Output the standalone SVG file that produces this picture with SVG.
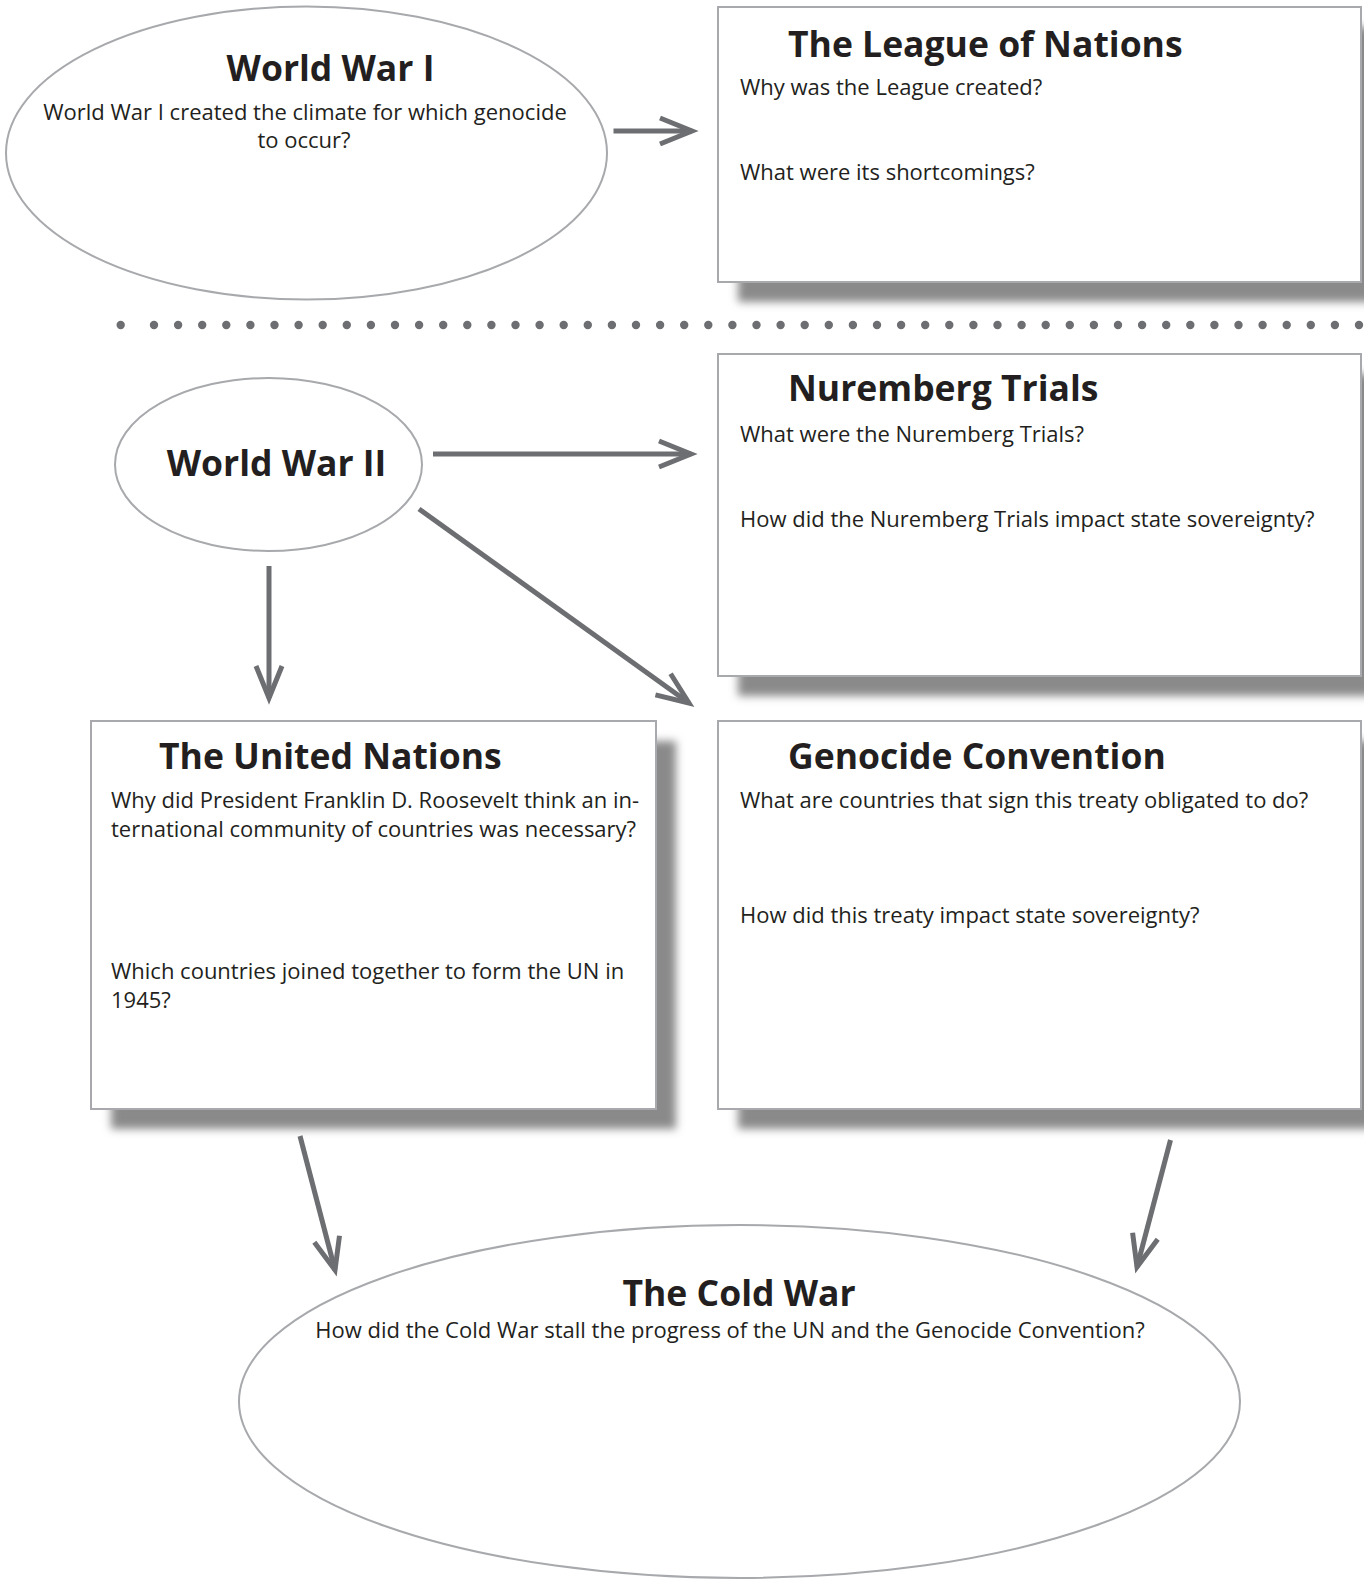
<svg xmlns="http://www.w3.org/2000/svg" width="1364" height="1580" viewBox="0 0 1364 1580">
<style>
.node-shape{fill:#fff;stroke:#a7a9ac;stroke-width:2}
.shadow{fill:#8a8a8a;filter:url(#blur)}
.title{font-family:"Open Sans","Noto Sans","Liberation Sans",sans-serif;font-weight:bold;font-size:35.5px;fill:#231f20}
.body{font-family:"Open Sans","Noto Sans","Liberation Sans",sans-serif;font-size:22px;fill:#231f20}
.mid{text-anchor:middle}
.conn{stroke:#6d6e71;stroke-width:5;fill:none;marker-end:url(#arr)}
.dot{fill:#6d6e71}
</style>
<defs>
<filter id="blur" x="-10%" y="-10%" width="120%" height="130%"><feGaussianBlur stdDeviation="4"/></filter>
<marker id="arr" markerUnits="userSpaceOnUse" markerWidth="46" markerHeight="40" viewBox="-36 -20 46 40" refX="0" refY="0" orient="auto">
<path d="M-32,-13 L0,0 L-32,13" fill="none" stroke="#6d6e71" stroke-width="5"/>
</marker>
</defs>
<rect width="1364" height="1580" fill="#fff"/>

<g id="divider">
<circle class="dot" cx="120.7" cy="325" r="4.2"/>
<line x1="154" y1="325" x2="1364" y2="325" stroke="#6d6e71" stroke-width="8.4" stroke-linecap="round" stroke-dasharray="0 24.1"/>
</g>

<g id="ww1">
<ellipse class="node-shape" cx="306.5" cy="153" rx="300.5" ry="146.5"/>
<text class="title mid" x="330.5" y="80.5">World War I</text>
<text class="body mid" x="305" y="120">World War I created the climate for which genocide</text>
<text class="body mid" x="304" y="148">to occur?</text>
</g>

<g id="league">
<rect class="shadow" x="738" y="27" width="643" height="275"/>
<rect class="node-shape" x="718" y="7" width="643" height="275"/>
<text class="title" x="788" y="56.5">The League of Nations</text>
<text class="body" x="740" y="95">Why was the League created?</text>
<text class="body" x="740" y="180">What were its shortcomings?</text>
</g>

<g id="nuremberg">
<rect class="shadow" x="738" y="374" width="643" height="322"/>
<rect class="node-shape" x="718" y="354" width="643" height="322"/>
<text class="title" x="788" y="401">Nuremberg Trials</text>
<text class="body" x="740" y="442">What were the Nuremberg Trials?</text>
<text class="body" x="740" y="527">How did the Nuremberg Trials impact state sovereignty?</text>
</g>

<g id="ww2">
<ellipse class="node-shape" cx="268.5" cy="464.5" rx="153.5" ry="86.5"/>
<text class="title mid" x="276.5" y="476">World War II</text>
</g>

<g id="un">
<rect class="shadow" x="111" y="741" width="565" height="388"/>
<rect class="node-shape" x="91" y="721" width="565" height="388"/>
<text class="title" x="159" y="769">The United Nations</text>
<text class="body" x="111" y="808">Why did President Franklin D. Roosevelt think an in-</text>
<text class="body" x="111" y="837">ternational community of countries was necessary?</text>
<text class="body" x="111" y="979">Which countries joined together to form the UN in</text>
<text class="body" x="111" y="1008">1945?</text>
</g>

<g id="genocide">
<rect class="shadow" x="738" y="741" width="643" height="388"/>
<rect class="node-shape" x="718" y="721" width="643" height="388"/>
<text class="title" x="788" y="769">Genocide Convention</text>
<text class="body" x="740" y="808">What are countries that sign this treaty obligated to do?</text>
<text class="body" x="740" y="923">How did this treaty impact state sovereignty?</text>
</g>

<g id="coldwar">
<ellipse class="node-shape" cx="739.5" cy="1401.5" rx="500.5" ry="176.5"/>
<text class="title mid" x="739" y="1306">The Cold War</text>
<text class="body mid" x="730" y="1338">How did the Cold War stall the progress of the UN and the Genocide Convention?</text>
</g>

<g id="connectors">
<line class="conn" x1="613.5" y1="131" x2="692" y2="131"/>
<line class="conn" x1="433" y1="454" x2="691" y2="454"/>
<line class="conn" x1="419" y1="509" x2="689" y2="703"/>
<line class="conn" x1="269" y1="566" x2="269" y2="698"/>
<line class="conn" x1="300" y1="1136" x2="335" y2="1270"/>
<line class="conn" x1="1170.5" y1="1140" x2="1137" y2="1267"/>
</g>
</svg>
